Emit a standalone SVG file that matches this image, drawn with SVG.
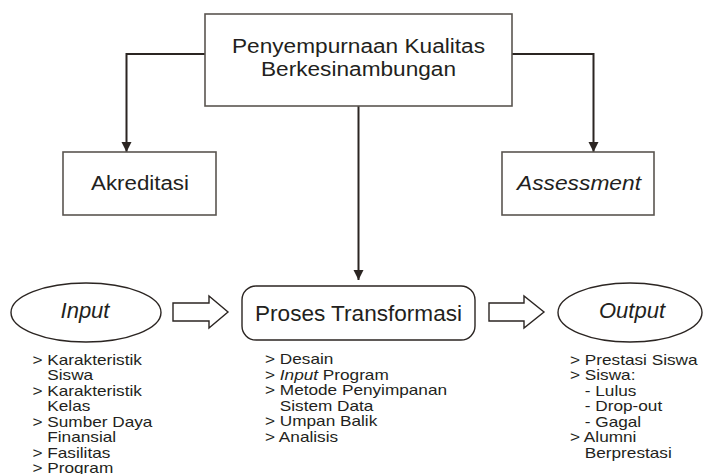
<svg xmlns="http://www.w3.org/2000/svg" width="703" height="474" viewBox="0 0 703 474">
<style>
.box{fill:#fff;stroke:#5a5550;stroke-width:1.6}
.shape{fill:#fff;stroke:#2b2522;stroke-width:1.4}
.ln{fill:none;stroke:#2b2522;stroke-width:2}
.t{font-family:"Liberation Sans",Arial,sans-serif;fill:#231f20}
.h{font-size:19.5px;text-anchor:middle}
.big{font-size:22px;text-anchor:middle}
.it{font-style:italic}
.li{font-size:15px}
</style>
<defs>
<marker id="ah" markerUnits="userSpaceOnUse" markerWidth="11" markerHeight="11" refX="10" refY="5" orient="auto">
<path d="M0,0 L10,5 L0,10 Z" fill="#2b2522"/>
</marker>
</defs>
<rect width="703" height="474" fill="#fff"/>
<g id="connectors">
<path class="ln" d="M205,54 H126.5 V152" marker-end="url(#ah)"/>
<path class="ln" d="M512,54 H593.5 V152" marker-end="url(#ah)"/>
<path class="ln" d="M358.5,106 V280" marker-end="url(#ah)"/>
<path class="shape" d="M173,303 H209 V296 L228,312 L209,328 V321 H173 Z"/>
<path class="shape" d="M489,303 H524 V296 L544,312 L524,328 V321 H489 Z"/>
</g>
<g id="top">
<rect class="box" x="205" y="14" width="307" height="92"/>
<text class="t h" x="358.5" y="53" textLength="253" lengthAdjust="spacingAndGlyphs">Penyempurnaan Kualitas</text>
<text class="t h" x="358.5" y="76" textLength="195" lengthAdjust="spacingAndGlyphs">Berkesinambungan</text>
</g>
<g id="akreditasi">
<rect class="box" x="63" y="152" width="153" height="63"/>
<text class="t h" x="140" y="190" textLength="98" lengthAdjust="spacingAndGlyphs">Akreditasi</text>
</g>
<g id="assessment">
<rect class="box" x="502" y="152" width="152" height="63"/>
<text class="t h it" x="579" y="190" textLength="124" lengthAdjust="spacingAndGlyphs">Assessment</text>
</g>
<g id="input">
<ellipse class="shape" cx="86" cy="312.5" rx="75" ry="29.5"/>
<text class="t big it" x="85" y="318">Input</text>
</g>
<g id="proses">
<rect class="shape" x="242" y="286" width="233" height="54" rx="14"/>
<text class="t big" x="358.5" y="321" textLength="207" lengthAdjust="spacingAndGlyphs">Proses Transformasi</text>
</g>
<g id="output">
<ellipse class="shape" cx="630" cy="312.5" rx="72" ry="29.5"/>
<text class="t big it" x="632" y="318">Output</text>
</g>
<g id="input-list" transform="translate(32.5,0) scale(1.147,1)">
<text class="t li" x="0" y="365">&gt; Karakteristik</text>
<text class="t li" x="12.9" y="380.5">Siswa</text>
<text class="t li" x="0" y="396">&gt; Karakteristik</text>
<text class="t li" x="12.9" y="411.5">Kelas</text>
<text class="t li" x="0" y="427">&gt; Sumber Daya</text>
<text class="t li" x="12.9" y="442.5">Finansial</text>
<text class="t li" x="0" y="458">&gt; Fasilitas</text>
<text class="t li" x="0" y="473.5">&gt; Program</text>
</g>
<g id="proses-list" transform="translate(265,0) scale(1.147,1)">
<text class="t li" x="0" y="364.5">&gt; Desain</text>
<text class="t li" x="0" y="380">&gt; <tspan class="it">Input</tspan> Program</text>
<text class="t li" x="0" y="395.5">&gt; Metode Penyimpanan</text>
<text class="t li" x="12.9" y="411">Sistem Data</text>
<text class="t li" x="0" y="426.5">&gt; Umpan Balik</text>
<text class="t li" x="0" y="442">&gt; Analisis</text>
</g>
<g id="output-list" transform="translate(570,0) scale(1.147,1)">
<text class="t li" x="0" y="365">&gt; Prestasi Siswa</text>
<text class="t li" x="0" y="380.5">&gt; Siswa:</text>
<text class="t li" x="12.9" y="396">- Lulus</text>
<text class="t li" x="12.9" y="411.5">- Drop-out</text>
<text class="t li" x="12.9" y="427">- Gagal</text>
<text class="t li" x="0" y="442.5">&gt; Alumni</text>
<text class="t li" x="12.9" y="458">Berprestasi</text>
</g>
</svg>
